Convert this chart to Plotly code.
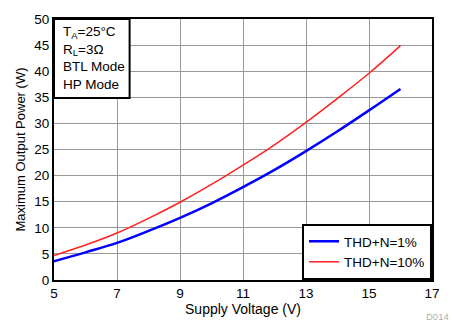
import plotly.graph_objects as go

voltage = [5, 6, 7, 8, 9, 10, 11, 12, 13, 14, 15, 16]
thd1 = [3.6, 5.3, 7.1, 9.4, 11.9, 14.7, 17.8, 21.1, 24.7, 28.5, 32.5, 36.6]
thd10 = [4.7, 6.7, 9.0, 11.8, 14.9, 18.3, 22.0, 25.9, 30.2, 34.8, 39.6, 44.9]
series_names = ["THD+N=1%", "THD+N=10%"]
x_ticks = [5, 7, 9, 11, 13, 15, 17]
y_ticks = [0, 5, 10, 15, 20, 25, 30, 35, 40, 45, 50]
info_lines = ["T<sub>A</sub>=25°C", "R<sub>L</sub>=3Ω", "BTL Mode", "HP Mode"]

font_family = "Liberation Sans, Arial, sans-serif"

fig = go.Figure()
fig.add_trace(go.Scatter(x=voltage, y=thd1, mode="lines", name=series_names[0],
                         line=dict(color="#0000ff", width=2.5, shape="spline")))
fig.add_trace(go.Scatter(x=voltage, y=thd10, mode="lines", name=series_names[1],
                         line=dict(color="#ff2020", width=1.5, shape="spline")))

fig.update_layout(
    width=452, height=327,
    margin=dict(l=54, r=19, t=14, b=46),
    paper_bgcolor="white", plot_bgcolor="white",
    font=dict(family=font_family, size=13, color="black"),
    legend=dict(x=1, y=0, xanchor="right", yanchor="bottom",
                bordercolor="black", borderwidth=2, bgcolor="white",
                font=dict(size=13.5), tracegroupgap=0,
                itemwidth=30),
    xaxis=dict(range=[5, 17], tickvals=x_ticks, showgrid=True, gridcolor="#999999",
               gridwidth=1, showline=True, linecolor="black", linewidth=2, mirror=True,
               ticks="", zeroline=False, tickfont=dict(size=13.5),
               title=dict(text="Supply Voltage (V)", standoff=4, font=dict(size=14))),
    yaxis=dict(range=[0, 50], tickvals=y_ticks, showgrid=True, gridcolor="#999999",
               gridwidth=1, showline=True, linecolor="black", linewidth=2, mirror=True,
               ticks="", zeroline=False, tickfont=dict(size=13.5),
               title=dict(text="Maximum Output Power (W)", standoff=6, font=dict(size=13))),
)

# Info box in upper-left
fig.add_shape(type="rect", xref="paper", yref="paper", x0=0, x1=0.2, y0=0.697, y1=1,
              line=dict(color="black", width=2), fillcolor="white", layer="above")
fig.add_annotation(xref="paper", yref="paper", x=0.018, y=0.988, xanchor="left", yanchor="top",
                   text="<br>".join(info_lines), showarrow=False, align="left",
                   font=dict(size=13.5, family=font_family))

fig.add_annotation(xref="paper", yref="paper", x=1.05, y=-0.139, xanchor="right", yanchor="middle",
                   text="D014", showarrow=False, font=dict(size=9.5, color="#b0b0b0"))

fig.write_html("out.html")
